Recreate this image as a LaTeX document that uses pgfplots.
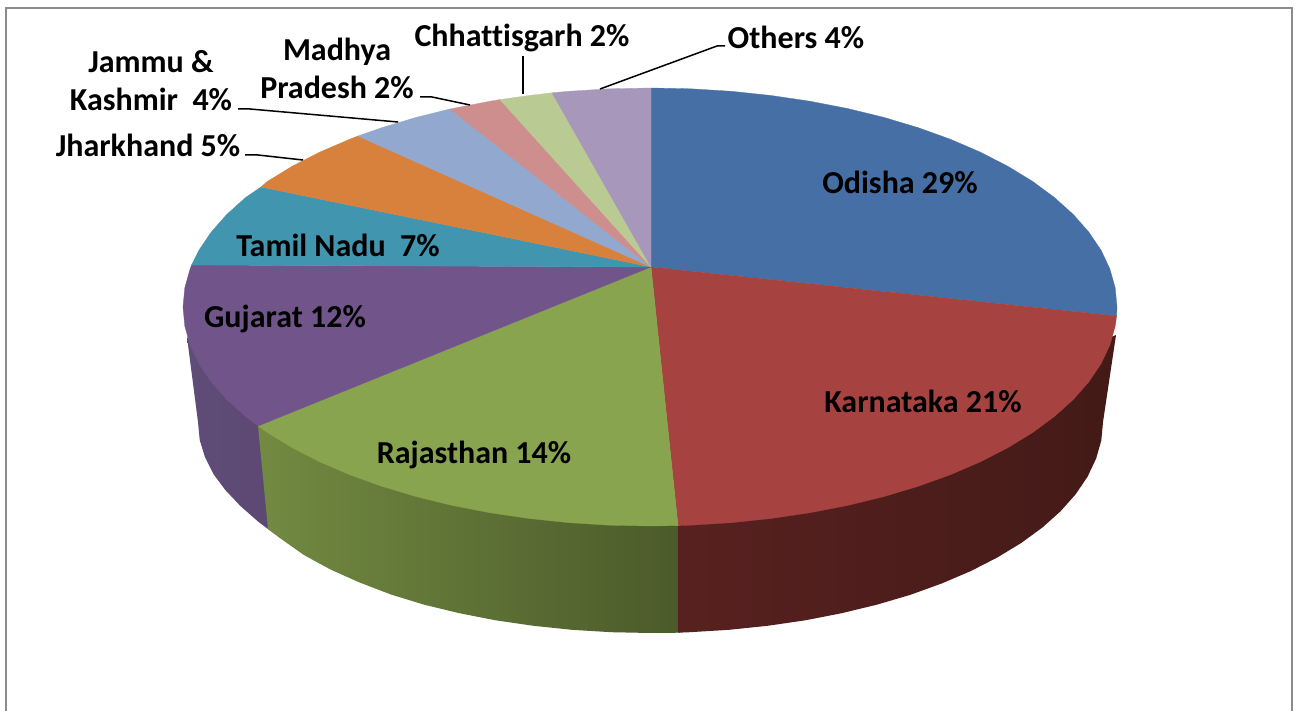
\documentclass[border=0pt]{standalone}
\usepackage{fontspec}
\setmainfont[Ligatures=NoCommon]{Carlito}
\usepackage{pgfplots}
\pgfplotsset{compat=1.18}
\definecolor{cOdisha}{HTML}{4670A5}
\definecolor{cKarnataka}{HTML}{A64341}
\definecolor{cRajasthan}{HTML}{89A44E}
\definecolor{cGujarat}{HTML}{71558A}
\definecolor{cTamil}{HTML}{4195AE}
\definecolor{cJharkhand}{HTML}{D7813D}
\definecolor{cJammu}{HTML}{92A8CE}
\definecolor{cMadhya}{HTML}{CE8E8D}
\definecolor{cChhatt}{HTML}{B9CB93}
\definecolor{cOthers}{HTML}{A797BA}
\definecolor{frameGray}{HTML}{8C8C8C}
\definecolor{gujL}{HTML}{5F4C78}
\definecolor{gujR}{HTML}{5C4872}
\definecolor{rajL}{HTML}{728A41}
\definecolor{rajR}{HTML}{4B5A2A}
\definecolor{karL}{HTML}{582120}
\definecolor{karM}{HTML}{431A17}
\begin{document}
\begin{tikzpicture}[lbl/.style={font=\fontsize{32}{38}\selectfont\bfseries,align=center,inner sep=0pt}]
\begin{axis}[
    scale only axis,
    width=1295pt, height=711pt,
    xmin=0, xmax=1295, ymin=0, ymax=711,
    y dir=reverse,
    hide axis,
    wedge/.style={fill=#1,draw=#1,line width=0.3pt},
    leader/.style={black,line width=1.5pt},
]
% page background and frame (open at the bottom)
\addplot[fill=white,draw=none] coordinates {(0,0)(1295,0)(1295,711)(0,711)(0,0)};
\addplot[frameGray,line width=2pt] coordinates {(6,711)(6,8)(1292,8)(1292,711)};

% side walls, the top face covers their upper part
\addplot[left color=gujL,right color=gujR,draw=none] coordinates {
(275,426)(275,534)(268,529)(258.6,522)(240.4,506)(225.3,490)(213.4,474)(204.9,457)(199.7,440)(198,422)(187,337)(275,426)};
\addplot[left color=rajL,right color=rajR,draw=none] coordinates {
(258,426)(268,529)(279.8,538)(303.9,555)(330.5,569.5)(359.6,582.5)(390.9,594.5)(424.2,604.7)(459.3,613.2)(495.7,620.3)(533.4,625.8)(571.9,629.8)(611,632.2)(650.5,633)(680,632.7)(680,526)(258,426)};
\addplot[left color=karL,middle color=karM,right color=karM,draw=none] coordinates {
(678,526)(678,632.7)(690,632.2)(729.1,629.8)(767.6,625.8)(805.3,620.3)(841.7,613.2)(876.8,604.7)(910.1,594.9)(941.4,583.6)(970.5,571.2)(997.1,557.6)(1021.2,543)(1042.4,527.5)(1060.6,511.2)(1075.7,494.2)(1087.6,476.6)(1096.1,458.6)(1101.3,440.4)(1103,422)(1116,335)(678,526)};

% top face
\addplot[wedge=cOdisha] coordinates {(651,267)(651,88)(690.7,88.8)(731.1,91.3)(770.9,95.5)(809.7,101.2)(847.4,108.5)(883.5,117.3)(917.9,127.6)(950.2,139.2)(980.2,152.1)(1007.7,166.2)(1032.6,181.4)(1054.4,197.5)(1073.2,214.4)(1088.8,232.1)(1101.1,250.3)(1109.9,269)(1115.2,287.9)(1117,307)(1116.6,316)(651,267)};
\addplot[wedge=cKarnataka] coordinates {(651,267)(1116.6,316)(1115.2,326.1)(1109.9,345)(1101.1,363.7)(1088.8,381.9)(1073.2,399.6)(1054.4,416.5)(1032.6,432.6)(1007.7,447.8)(980.2,461.9)(950.2,474.8)(917.9,486.4)(883.5,496.7)(847.4,505.5)(809.7,512.8)(770.9,518.5)(731.1,522.7)(690.7,525.2)(678,525.6)(651,267)};
\addplot[wedge=cRajasthan] coordinates {(651,267)(678,525.6)(650,526)(609.3,525.2)(568.9,522.7)(529.1,518.5)(490.3,512.8)(452.6,505.5)(416.5,496.7)(382.1,486.4)(349.8,474.8)(319.8,461.9)(292.3,447.8)(267.4,432.6)(258,426)(651,267)};
\addplot[wedge=cGujarat] coordinates {(651,267)(258,426)(245.6,416.5)(226.8,399.6)(211.2,381.9)(198.9,363.7)(190.1,345)(184.8,326.1)(183,307)(184.8,287.9)(190.1,269)(191.6,265)(651,267)};
\addplot[wedge=cTamil] coordinates {(651,267)(191.6,265)(198.9,250.3)(211.2,232.1)(226.8,214.4)(245.6,197.5)(261,187)(651,267)};
\addplot[wedge=cJharkhand] coordinates {(651,267)(261,187)(267.4,181.4)(292.3,166.2)(319.8,152.1)(349.8,139.2)(358,136)(651,267)};
\addplot[wedge=cJammu] coordinates {(651,267)(358,136)(382.1,127.6)(416.5,117.3)(450,109)(651,267)};
\addplot[wedge=cMadhya] coordinates {(651,267)(450,109)(452.6,108.5)(490.3,101.2)(500,99.6)(651,267)};
\addplot[wedge=cChhatt] coordinates {(651,267)(500,99.6)(529.1,95.5)(552,92.8)(651,267)};
\addplot[wedge=cOthers] coordinates {(651,267)(552,92.8)(568.9,91.3)(609.3,88.8)(651,88)(651,267)};

% leader lines
\addplot[leader] coordinates {(600,89)(717,46)(725,46)};
\addplot[leader] coordinates {(523,56)(523,94)};
\addplot[leader] coordinates {(420,97)(432,97)(470,105)};
\addplot[leader] coordinates {(238,109)(250,109)(398,122)};
\addplot[leader] coordinates {(245,155)(258,155)(303,160)};

% labels
\node[lbl] at (axis cs:900,182) {Odisha 29\%};
\node[lbl] at (axis cs:923,401) {Karnataka 21\%};
\node[lbl] at (axis cs:474,455) {Rajasthan 14\%};
\node[lbl] at (axis cs:285,319) {Gujarat 12\%};
\node[lbl] at (axis cs:338,245) {Tamil Nadu\ \ 7\%};
\node[lbl] at (axis cs:148,145) {Jharkhand 5\%};
\node[lbl] at (axis cs:151,81) {Jammu \&\\Kashmir\ \ 4\%};
\node[lbl] at (axis cs:337,68) {Madhya\\Pradesh 2\%};
\node[lbl] at (axis cs:522,38) {Chhattisgarh 2\%};
\node[lbl] at (axis cs:796,37) {Others 4\%};
\end{axis}
\end{tikzpicture}
\end{document}
